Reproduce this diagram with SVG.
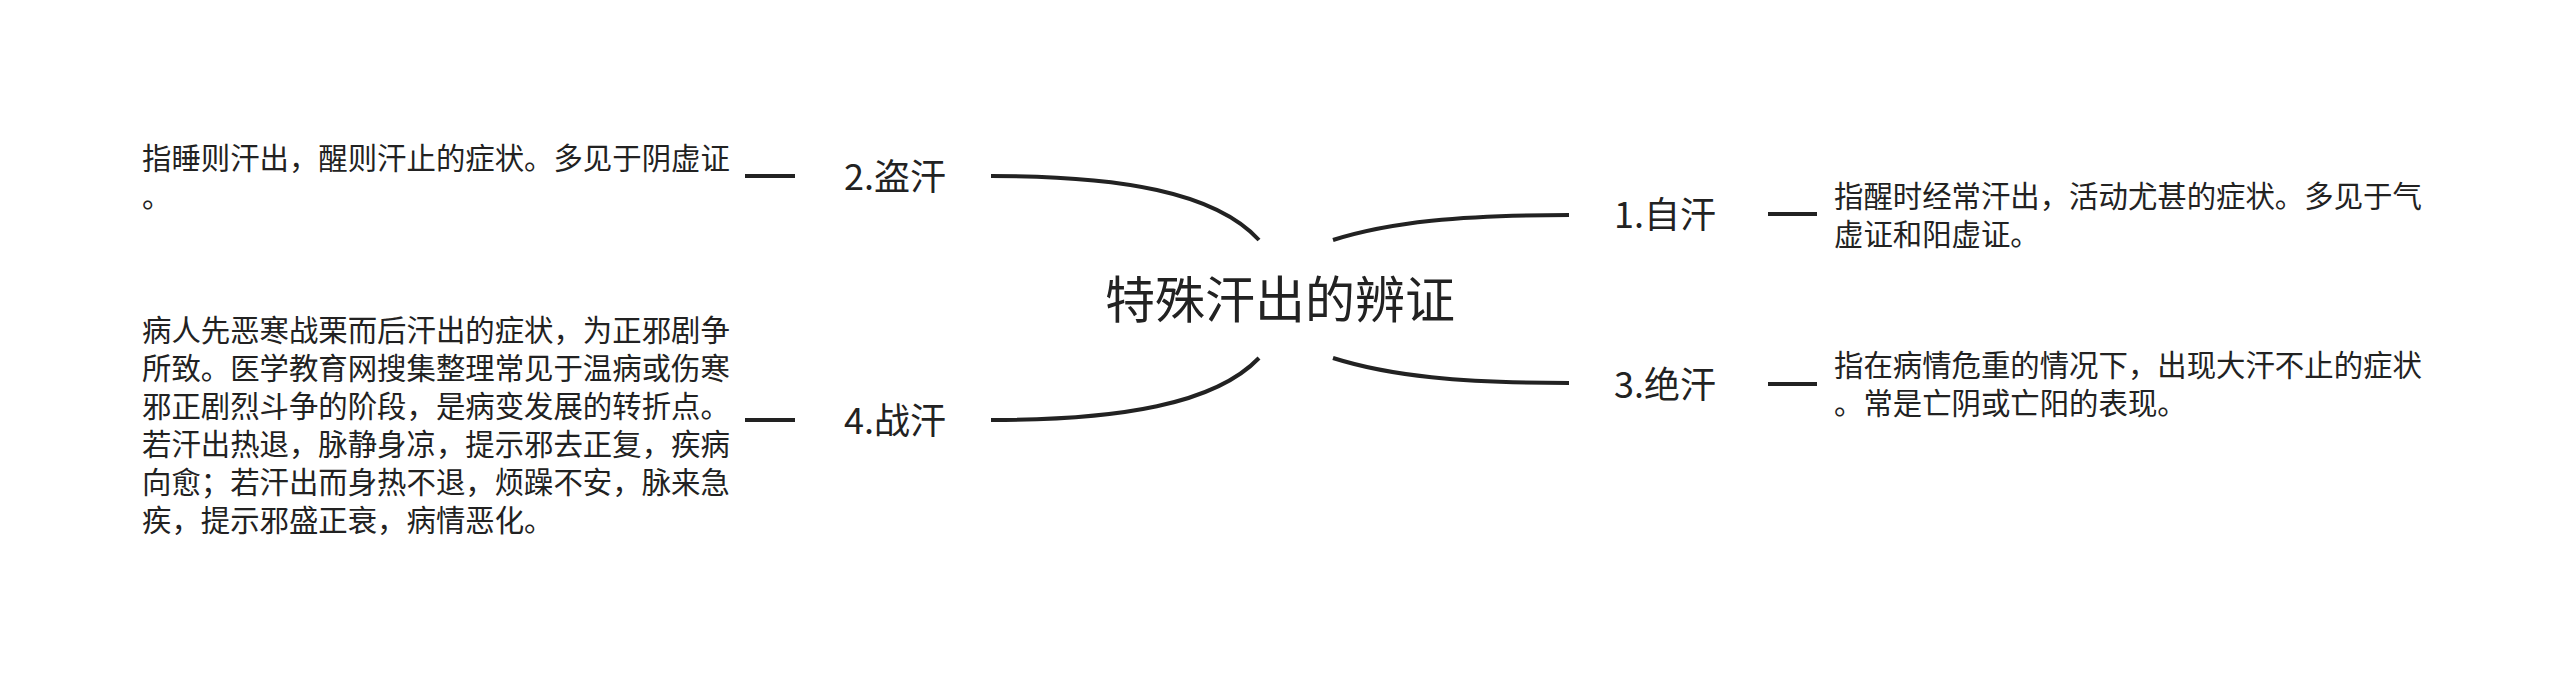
<svg xmlns="http://www.w3.org/2000/svg" width="2560" height="675" viewBox="0 0 2560 675">
<style>
text{font-family:"Noto Sans CJK SC","Liberation Sans",sans-serif;fill:#222}
.title{font-size:50px}
.lab{font-size:36px;text-anchor:middle}
.desc{font-size:29.4px}
.c{fill:none;stroke:#222;stroke-width:4;stroke-linecap:butt}
</style>
<rect width="2560" height="675" fill="#ffffff"/>
<g id="connectors">
<path class="c" d="M991 176 C1120 176 1215 192 1259 240"/>
<path class="c" d="M991 420 C1120 420 1215 404 1259 358"/>
<path class="c" d="M1333 240 C1390 222 1460 215 1569 215"/>
<path class="c" d="M1333 358 C1390 376 1460 383 1569 383"/>
<path class="c" d="M745 176 H795"/>
<path class="c" d="M745 420 H795"/>
<path class="c" d="M1768 214 H1817"/>
<path class="c" d="M1768 384 H1817"/>
</g>
<g id="root"><text class="title" x="1280" y="318" text-anchor="middle">特殊汗出的辨证</text></g>
<g id="n2"><text class="lab" x="895" y="190">2.盗汗</text></g>
<g id="n2d"><text class="desc" x="142" y="169">指睡则汗出，醒则汗止的症状。多见于阴虚证</text><text class="desc" x="142" y="207">。</text></g>
<g id="n4"><text class="lab" x="895" y="434">4.战汗</text></g>
<g id="n4d">
<text class="desc" x="142" y="341">病人先恶寒战栗而后汗出的症状，为正邪剧争</text>
<text class="desc" x="142" y="379">所致。医学教育网搜集整理常见于温病或伤寒</text>
<text class="desc" x="142" y="417">邪正剧烈斗争的阶段，是病变发展的转折点。</text>
<text class="desc" x="142" y="455">若汗出热退，脉静身凉，提示邪去正复，疾病</text>
<text class="desc" x="142" y="493">向愈；若汗出而身热不退，烦躁不安，脉来急</text>
<text class="desc" x="142" y="531">疾，提示邪盛正衰，病情恶化。</text>
</g>
<g id="n1"><text class="lab" x="1665" y="228">1.自汗</text></g>
<g id="n1d"><text class="desc" x="1834" y="207">指醒时经常汗出，活动尤甚的症状。多见于气</text><text class="desc" x="1834" y="245">虚证和阳虚证。</text></g>
<g id="n3"><text class="lab" x="1665" y="398">3.绝汗</text></g>
<g id="n3d"><text class="desc" x="1834" y="376">指在病情危重的情况下，出现大汗不止的症状</text><text class="desc" x="1834" y="414">。常是亡阴或亡阳的表现。</text></g>
</svg>
